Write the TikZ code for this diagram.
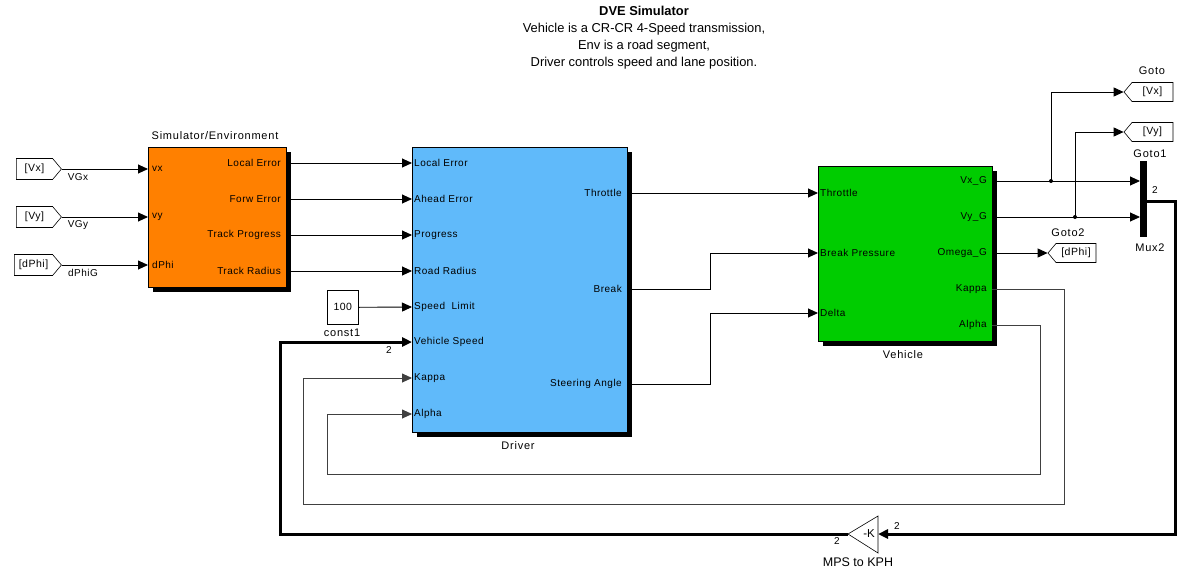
\documentclass[tikz,border=0pt]{standalone}
\usepackage{fontspec}
\setmainfont{Liberation Sans}
\newfontfamily\simfont[LetterSpace=5]{Liberation Sans}
\newfontfamily\namefont[LetterSpace=7]{Liberation Sans}
\usetikzlibrary{arrows.meta,shapes.symbols}
\definecolor{envor}{RGB}{255,128,0}
\definecolor{drvbl}{RGB}{96,186,250}
\definecolor{vehgr}{RGB}{0,204,0}
\begin{document}
\begin{tikzpicture}[x=1pt,y=-1pt,
  sig/.style={line width=0.9pt,-{Triangle[length=10pt,width=9pt]}},
  loopline/.style={line width=0.9pt,draw=black!75,-{Triangle[length=10pt,width=9pt]}},
  bus/.style={line width=3pt},
  bustip/.style={line width=3pt,-{Triangle[length=10pt,width=9pt]}},
  blk/.style={draw=black,line width=0.6pt,anchor=north west,inner sep=0pt},
  shad/.style={fill=black},
  port/.style={font=\simfont\fontsize{10}{11}\selectfont,inner sep=0pt},
  bname/.style={font=\namefont\fontsize{11}{12}\selectfont,inner sep=0pt},
  tag/.style={draw=black,line width=0.6pt,fill=white,signal,signal pointer angle=100,
    minimum height=21pt,inner sep=1pt,font=\simfont\fontsize{10.5}{11}\selectfont},
  title/.style={font=\fontsize{12.9}{14}\selectfont,inner sep=0pt}
]
\useasboundingbox (0,0) rectangle (1179,579);

% title
\node[title,font=\fontsize{12.9}{14}\selectfont\bfseries] (t0) at (644,11) {DVE Simulator};
\node[title] (t1) at (644,29) {Vehicle is a CR-CR 4-Speed transmission,};
\node[title] (t2) at (644,46) {Env is a road segment,};
\node[title] (t3) at (644,63) {Driver controls speed and lane position.};

% ---- Simulator/Environment
\fill[shad] (153,152) rectangle (291,292);
\node[blk,fill=envor,minimum width=138pt,minimum height=140pt] (env) at (148,147) {};
\node[bname] (envn) at (215,136) {Simulator/Environment};
\node[port,anchor=west] (ei1) at (152,169) {vx};
\node[port,anchor=west] (ei2) at (152,217) {vy};
\node[port,anchor=west] (ei3) at (152,265) {dPhi};
\node[port,anchor=east] (eo1l) at (281,163) {Local Error};
\node[port,anchor=east] (eo2l) at (281,199) {Forw Error};
\node[port,anchor=east] (eo3l) at (281,235) {Track Progress};
\node[port,anchor=east] (eo4l) at (281,271) {Track Radius};
\coordinate (epi1) at (148,169);
\coordinate (epi2) at (148,217);
\coordinate (epi3) at (148,265);
\coordinate (epo1) at (286,163);
\coordinate (epo2) at (286,199);
\coordinate (epo3) at (286,235);
\coordinate (epo4) at (286,271);

% From tags
\node[tag,signal to=east,minimum width=45pt] (fvx) at (34.5,169) {[Vx]};
\node[tag,signal to=east,minimum width=45pt] (fvy) at (34.5,217) {[Vy]};
\node[tag,signal to=east,minimum width=47pt] (fdp) at (33.5,265) {[dPhi]};
\draw[sig] (fvx.east) -- (epi1);
\draw[sig] (fvy.east) -- (epi2);
\draw[sig] (fdp.east) -- (epi3);
\node[port] (lvgx) at (78,177) {VGx};
\node[port] (lvgy) at (78,225) {VGy};
\node[port] (ldp) at (83,273) {dPhiG};

% ---- Driver
\fill[shad] (417,152) rectangle (632,437);
\node[blk,fill=drvbl,minimum width=215pt,minimum height=285pt] (drv) at (412,147) {};
\node[bname] (drvn) at (518,446) {Driver};
\foreach \n/\y/\t in {1/163/Local Error,2/199/Ahead Error,3/235/Progress,4/271/Road Radius,
  5/307/Speed\ \ Limit,6/342/Vehicle Speed,7/378/Kappa,8/414/Alpha}{
  \node[port,anchor=west] (dil\n) at (414,\y) {\t};
  \coordinate (dpi\n) at (412,\y);
}
\node[port,anchor=east] (dol1) at (622,193) {Throttle};
\node[port,anchor=east] (dol2) at (622,289) {Break};
\node[port,anchor=east] (dol3) at (622,384) {Steering Angle};
\coordinate (dpo1) at (627,193);
\coordinate (dpo2) at (627,289);
\coordinate (dpo3) at (627,384);

\draw[sig] (epo1) -- (dpi1);
\draw[sig] (epo2) -- (dpi2);
\draw[sig] (epo3) -- (dpi3);
\draw[sig] (epo4) -- (dpi4);

% const1
\node[blk,fill=white,minimum width=31pt,minimum height=34pt,font=\simfont\fontsize{10.5}{11}\selectfont] (c1) at (327,290) {100};
\node[bname] (c1n) at (342,333) {const1};
\draw[sig] (c1.east) -- (dpi5);

% ---- Vehicle
\fill[shad] (823,171) rectangle (997,346);
\node[blk,fill=vehgr,minimum width=174pt,minimum height=175pt] (veh) at (818,166) {};
\node[bname] (vehn) at (903,355) {Vehicle};
\node[port,anchor=west] (vil1) at (820,193) {Throttle};
\node[port,anchor=west] (vil2) at (820,253) {Break Pressure};
\node[port,anchor=west] (vil3) at (820,313) {Delta};
\coordinate (vpi1) at (818,193);
\coordinate (vpi2) at (818,253);
\coordinate (vpi3) at (818,313);
\foreach \n/\y/\t in {1/181/Vx\_G,2/217/Vy\_G,3/253/Omega\_G,4/289/Kappa,5/325/Alpha}{
  \node[port,anchor=east] (vol\n) at (987,\y) {\t};
  \coordinate (vpo\n) at (992,\y);
}

\draw[sig] (dpo1) -- (vpi1);
\draw[sig] (dpo2) -- (710,289) |- (vpi2);
\draw[sig] (dpo3) -- (710,384) |- (vpi3);

% ---- Goto tags and Mux
\node[tag,signal to=west,minimum width=49pt,minimum height=19pt] (gvx) at (1152.5,92) {[Vx]};
\node[tag,signal to=west,minimum width=49pt,minimum height=19pt] (gvy) at (1152.5,132) {[Vy]};
\node[tag,signal to=west,minimum width=48pt,minimum height=19pt] (gdp) at (1076,253) {[dPhi]};
\node[bname] (lg0) at (1152,71) {Goto};
\node[bname] (lg1) at (1150,154) {Goto1};
\node[bname] (lg2) at (1068,233) {Goto2};
\node[bname] (lmx) at (1150,248) {Mux2};
\node[fill=black,anchor=north west,minimum width=7pt,minimum height=76pt,inner sep=0pt] (mux) at (1140,161) {};
\coordinate (mxi1) at (1140,181);
\coordinate (mxi2) at (1140,217);
\coordinate (mxo) at (1147,201);
\coordinate (j1) at (1051,181);
\coordinate (j2) at (1075,217);

\draw[sig] (vpo1) -- (mxi1);
\draw[sig] (vpo2) -- (mxi2);
\draw[sig] (j1) |- (gvx.west);
\draw[sig] (j2) |- (gvy.west);
\fill (j1) circle (2pt);
\fill (j2) circle (2pt);
\draw[sig] (vpo3) -- (gdp.west);
\node[port] (lm2) at (1155,190) {2};

% ---- gain
\draw[line width=0.6pt,fill=white] (848,534) -- (878,516) -- (878,553) -- cycle;
\coordinate (gin) at (878,534);
\coordinate (gout) at (848,534);
\node[font=\fontsize{11.5}{12}\selectfont,inner sep=0pt] (gk) at (869,534) {-K};
\node[font=\fontsize{12.5}{13}\selectfont,inner sep=0pt] (gn) at (858,562) {MPS to KPH};
\node[port] (lg2a) at (897,526) {2};
\node[port] (lg2b) at (837,541) {2};
\node[port] (lvs2) at (389,350) {2};

\draw[bus,line join=miter] (mxo) -- (1175,201) -- (1175,534) -- (890,534);
\draw[bustip] (890,534) -- (gin);
\draw[bus,line join=miter] (gout) -- (280,534) -- (280,342) -- (400,342);
\draw[bustip] (400,342) -- (dpi6);

% ---- feedback loops
\draw[loopline] (vpo4) -- (1064,289) -- (1064,504) -- (303,504) |- (dpi7);
\draw[loopline] (vpo5) -- (1040,325) -- (1040,474) -- (327,474) |- (dpi8);
\end{tikzpicture}
\end{document}
